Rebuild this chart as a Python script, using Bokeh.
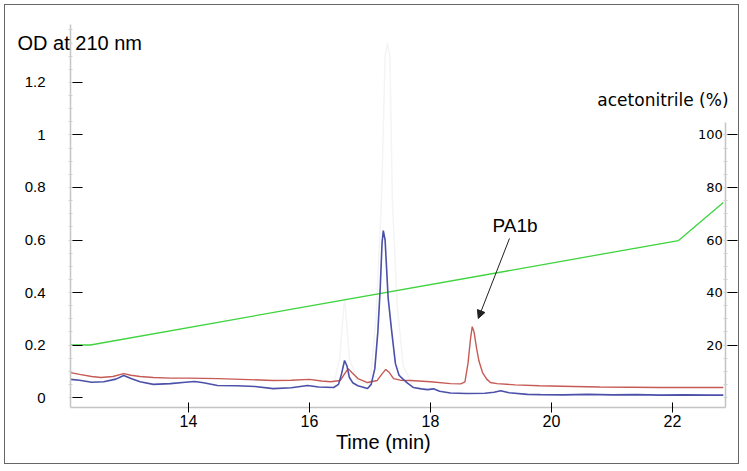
from bokeh.plotting import figure
from bokeh.models import Range1d, LinearAxis, FixedTicker, Label, Arrow, NormalHead, ColumnDataSource
from bokeh.core.properties import value
from bokeh.embed import file_html
from bokeh.resources import INLINE

# ---- data ----
time_blue = [12.05, 12.20, 12.40, 12.60, 12.80, 12.93, 13.05, 13.20, 13.42, 13.70, 13.95, 14.10,
             14.25, 14.48, 14.80, 15.10, 15.40, 15.70, 15.97, 16.15, 16.40, 16.48, 16.53, 16.58,
             16.62, 16.66, 16.72, 16.80, 16.96, 17.02, 17.08, 17.13, 17.17, 17.20, 17.22, 17.25,
             17.30, 17.36, 17.42, 17.48, 17.55, 17.62, 17.72, 17.85, 17.95, 18.05, 18.15, 18.33,
             18.60, 18.90, 19.05, 19.16, 19.30, 19.60, 19.82, 20.20, 20.60, 21.00, 21.40, 21.80,
             22.20, 22.60, 22.84]
od_blue = [0.069, 0.066, 0.058, 0.060, 0.070, 0.084, 0.072, 0.060, 0.050, 0.053, 0.058, 0.061,
           0.056, 0.046, 0.045, 0.042, 0.034, 0.037, 0.046, 0.040, 0.038, 0.050, 0.090, 0.141,
           0.120, 0.076, 0.055, 0.045, 0.034, 0.050, 0.110, 0.250, 0.420, 0.590, 0.636, 0.600,
           0.380, 0.250, 0.130, 0.085, 0.069, 0.055, 0.038, 0.033, 0.030, 0.033, 0.024, 0.017,
           0.015, 0.016, 0.020, 0.026, 0.018, 0.012, 0.011, 0.010, 0.012, 0.010, 0.011, 0.009,
           0.010, 0.009, 0.009]

time_red = [12.05, 12.20, 12.40, 12.55, 12.75, 12.93, 13.05, 13.20, 13.42, 13.70, 14.00, 14.50,
            15.00, 15.40, 15.70, 16.00, 16.20, 16.35, 16.51, 16.58, 16.64, 16.70, 16.80, 16.96,
            17.12, 17.20, 17.26, 17.32, 17.39, 17.50, 17.67, 18.00, 18.33, 18.50, 18.57, 18.62,
            18.66, 18.69, 18.72, 18.76, 18.80, 18.86, 18.93, 18.99, 19.10, 19.40, 19.80, 20.36,
            20.80, 21.30, 21.80, 22.30, 22.84]
od_red = [0.095, 0.088, 0.080, 0.076, 0.080, 0.091, 0.085, 0.080, 0.076, 0.074, 0.074, 0.072,
          0.068, 0.065, 0.066, 0.069, 0.063, 0.060, 0.065, 0.090, 0.110, 0.095, 0.072, 0.057,
          0.065, 0.090, 0.107, 0.095, 0.072, 0.066, 0.065, 0.060, 0.053, 0.052, 0.060, 0.130,
          0.220, 0.270, 0.250, 0.190, 0.140, 0.095, 0.070, 0.057, 0.053, 0.048, 0.045, 0.042,
          0.040, 0.039, 0.038, 0.038, 0.038]

time_ghost = [16.40, 16.50, 16.58, 16.66, 16.80, 17.00, 17.10, 17.19, 17.25, 17.29, 17.33,
              17.37, 17.45, 17.55, 17.70]
od_ghost = [0.05, 0.15, 0.38, 0.15, 0.06, 0.05, 0.30, 0.75, 1.30, 1.35, 1.30, 0.75, 0.35,
            0.12, 0.05]

acn_time = [12.05, 12.38, 22.10, 22.84]
acn_pct = [20.0, 20.0, 59.8, 74.3]

x_ticks = [14, 16, 18, 20, 22]
od_ticks = [0, 0.2, 0.4, 0.6, 0.8, 1.0, 1.2]
od_tick_labels = ["0", "0.2", "0.4", "0.6", "0.8", "1", "1.2"]
acn_ticks = [20, 40, 60, 80, 100]
acn_tick_labels = ["20", "40", "60", "80", "100"]

peak_label = "PA1b"
peak_time = 18.69
peak_od = 0.270

# ---- axes extents (data units) and the whole-canvas frame ----
X0, X1 = 12.05, 22.88          # time axis span
Y0, Y1 = -0.038, 1.421         # OD axis span
FX0, FX1 = 10.976, 23.124      # frame covers whole canvas
FY0, FY1 = -0.259, 1.4933

p = figure(width=735, height=460, x_range=Range1d(FX0, FX1), y_range=Range1d(FY0, FY1),
           output_backend="svg", toolbar_location=None,
           min_border_left=0, min_border_right=0, min_border_top=0, min_border_bottom=0)
p.extra_y_ranges = {"acn": Range1d(FY0 * 100, FY1 * 100)}
p.styles = {"border": "1px solid #666666", "margin-left": "4px", "margin-top": "4px"}
p.outline_line_color = None
p.xgrid.visible = False
p.ygrid.visible = False
p.background_fill_color = "white"
p.border_fill_color = "white"

# lines
p.line(time_ghost, od_ghost, line_color="#f4f4f4", line_width=1.5)
p.line(acn_time, acn_pct, line_color="#3ed43e", line_width=1.3, y_range_name="acn")
p.line(time_red, od_red, line_color="#c65a55", line_width=1.4)
p.line(time_blue, od_blue, line_color="#4b50a8", line_width=1.6)

# x axis
xa = p.xaxis[0]
xa.fixed_location = Y0
xa.bounds = (X0, X1)
xa.ticker = FixedTicker(ticks=x_ticks, minor_ticks=[])
xa.axis_line_color = "#c4c4c4"
xa.axis_line_width = 1.5
xa.major_tick_line_color = "black"
xa.major_tick_in = 5
xa.major_tick_out = 5
xa.minor_tick_line_color = None
xa.major_label_standoff = 3
xa.major_label_text_font = "Liberation Sans"
xa.major_label_text_font_size = "16px"
xa.major_label_text_color = "black"

# left y axis
ya = p.yaxis[0]
ya.fixed_location = X0
ya.bounds = (Y0, Y1)
od_minor = [round(i * 0.05, 2) for i in range(0, 29)]
ya.ticker = FixedTicker(ticks=od_ticks, minor_ticks=od_minor)
ya.major_label_overrides = {t: s for t, s in zip(od_ticks, od_tick_labels)}
ya.axis_line_color = "#c4c4c4"
ya.axis_line_width = 1.5
ya.major_tick_line_color = "black"
ya.major_tick_in = 12
ya.major_tick_out = 0
ya.minor_tick_line_color = "#d0d0d0"
ya.minor_tick_in = 2
ya.minor_tick_out = 2
ya.major_label_standoff = 23
ya.major_label_text_font = "Liberation Sans"
ya.major_label_text_font_size = "15px"
ya.major_label_text_color = "black"

# right y axis (acetonitrile %)
acn_minor = list(range(0, 105, 5))
ra = LinearAxis(y_range_name="acn", ticker=FixedTicker(ticks=acn_ticks, minor_ticks=acn_minor))
ra.fixed_location = X1
ra.bounds = (Y0 * 100, 104.8)
ra.major_label_overrides = {t: "" for t in acn_ticks}
ra.major_label_standoff = 0
ra.axis_line_color = "#c4c4c4"
ra.axis_line_width = 1.5
ra.major_tick_line_color = "black"
ra.major_tick_in = 0
ra.major_tick_out = 12
ra.minor_tick_line_color = "#d0d0d0"
ra.minor_tick_in = 2
ra.minor_tick_out = 2
p.add_layout(ra, "right")

rsrc = ColumnDataSource(dict(x=[X1] * len(acn_ticks), y=acn_ticks, t=acn_tick_labels))
p.text(x="x", y="y", text="t", source=rsrc, y_range_name="acn", x_offset=-3,
       text_align="right", text_baseline="middle", text_font=value("DejaVu Sans"),
       text_font_size="13px", text_color="black")

# titles / labels
p.add_layout(Label(x=11.174, y=1.352, text="OD at 210 nm", text_align="left",
                   text_baseline="middle", text_font="Liberation Sans",
                   text_font_size="20px", text_color="black"))
p.add_layout(Label(x=22.926, y=1.135, text="acetonitrile (%)", text_align="right",
                   text_baseline="middle", text_font="DejaVu Sans",
                   text_font_size="17px", text_color="black"))
p.add_layout(Label(x=17.22, y=-0.171, text="Time (min)", text_align="center",
                   text_baseline="middle", text_font="Liberation Sans",
                   text_font_size="20px", text_color="black"))
p.add_layout(Label(x=19.025, y=0.655, text=peak_label, text_align="left",
                   text_baseline="middle", text_font="Liberation Sans",
                   text_font_size="19px", text_color="black"))
p.add_layout(Arrow(x_start=peak_time + 0.616, y_start=peak_od + 0.336,
                   x_end=peak_time + 0.10, y_end=peak_od + 0.031,
                   line_color="#222222", line_width=1,
                   end=NormalHead(size=8, fill_color="#222222", line_color="#222222")))

open("out.html", "w").write(file_html(p, INLINE))
